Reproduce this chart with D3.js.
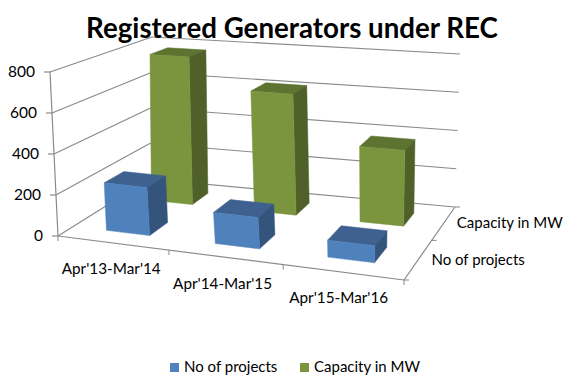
<!DOCTYPE html>
<html>
<head>
<meta charset="utf-8">
<script src="https://d3js.org/d3.v7.min.js"></script>
<style>
  html, body { margin: 0; padding: 0; background: #fff; }
  svg { display: block; }
  text { font-family: Lato, sans-serif; fill: #000; }
</style>
</head>
<body>
<div id="chart"></div>
<script>
const categories = ["Apr'13-Mar'14", "Apr'14-Mar'15", "Apr'15-Mar'16"];
const seriesNames = ["No of projects", "Capacity in MW"];
const noOfProjects = [235, 150, 80];
const capacityInMw = [775, 620, 380];
const yTicks = [0, 200, 400, 600, 800];
const seriesValues = [noOfProjects, capacityInMw];

const colors = [
  { front: "#4f81bd", side: "#35547c", top: "#3e618f" },
  { front: "#7a953d", side: "#4f6128", top: "#5d7330" },
];

const width = 580;
const height = 381;

// corners of the chart box on screen: front-left, front-right, back-right, back-left
const floorQuad = [[58, 236], [404, 280], [455, 207], [149, 179]];
const topQuad = [[50, 72], [412, 106], [460, 54], [152, 37]];

// maps the unit square on to a quad, so depth shrinks like in the excel 3d chart
function homography(q) {
  const [[x0, y0], [x1, y1], [x2, y2], [x3, y3]] = q;
  const dx1 = x1 - x2, dx2 = x3 - x2, sx = x0 - x1 + x2 - x3;
  const dy1 = y1 - y2, dy2 = y3 - y2, sy = y0 - y1 + y2 - y3;
  const den = dx1 * dy2 - dx2 * dy1;
  const g = (sx * dy2 - dx2 * sy) / den;
  const h = (dx1 * sy - sx * dy1) / den;
  const a = x1 - x0 + g * x1, b = x3 - x0 + h * x3;
  const d = y1 - y0 + g * y1, e = y3 - y0 + h * y3;
  return (u, v) => {
    const w = g * u + h * v + 1;
    return [(a * u + b * v + x0) / w, (d * u + e * v + y0) / w];
  };
}

const floorAt = homography(floorQuad);
const topAt = homography(topQuad);

const xScale = d3.scaleBand().domain(categories).range([0.006, 0.995]).paddingInner(0.6).paddingOuter(0.3);
const zScale = d3.scaleBand().domain(seriesNames).range([0, 1]).paddingInner(0.6).paddingOuter(0.3);
const yScale = d3.scaleLinear().domain([0, 800]).range([0, 1]);
// the real chart has less perspective along the front edge than the quad gives
const uWarp = d3.scaleLinear().domain([0, 1 / 3, 2 / 3, 1]).range([0, 0.3595, 0.689, 1]);

function project(u, v, t) {
  const f = floorAt(uWarp(u), v);
  const p = topAt(uWarp(u), v);
  return [f[0] + (p[0] - f[0]) * t, f[1] + (p[1] - f[1]) * t];
}

const svg = d3.select("#chart").append("svg").attr("width", width).attr("height", height);
const line = d3.line();

function segment(g, from, to, stroke, sw) {
  g.append("line")
    .attr("x1", from[0]).attr("y1", from[1])
    .attr("x2", to[0]).attr("y2", to[1])
    .attr("stroke", stroke)
    .attr("stroke-width", sw);
}

// walls and floor edges
const gridGroup = svg.append("g");
const gridColor = "#8a8a8a";
yTicks.forEach((tick) => {
  const t = yScale(tick);
  segment(gridGroup, project(0, 0, t), project(0, 1, t), gridColor, 1.2);
  segment(gridGroup, project(0, 1, t), project(1, 1, t), gridColor, 1.2);
  const p = project(0, 0, t);
  segment(gridGroup, [p[0] - 6, p[1]], p, gridColor, 1.2);
});
segment(gridGroup, project(0, 0, 0), project(0, 0, 1), gridColor, 1.2);
segment(gridGroup, project(0, 0, 0), project(1, 0, 0), gridColor, 1.2);
segment(gridGroup, project(1, 0, 0), project(1, 1, 0), gridColor, 1.2);

d3.range(4).forEach((i) => {
  const p = project(i / 3, 0, 0);
  segment(gridGroup, p, [p[0], p[1] + 5], gridColor, 1);
});
d3.range(3).forEach((i) => {
  const p = project(1, i / 2, 0);
  segment(gridGroup, p, [p[0] + 5, p[1]], gridColor, 1);
});

// bars, back row first so the blue ones sit in front
const barGroup = svg.append("g");
[1, 0].forEach((s) => {
  categories.forEach((cat, i) => {
    const u0 = xScale(cat), u1 = u0 + xScale.bandwidth();
    const v0 = zScale(seriesNames[s]), v1 = v0 + zScale.bandwidth();
    const t = yScale(seriesValues[s][i]);
    const faces = [
      { fill: colors[s].top, pts: [[u0, v0, t], [u1, v0, t], [u1, v1, t], [u0, v1, t]] },
      { fill: colors[s].side, pts: [[u1, v0, 0], [u1, v1, 0], [u1, v1, t], [u1, v0, t]] },
      { fill: colors[s].front, pts: [[u0, v0, 0], [u1, v0, 0], [u1, v0, t], [u0, v0, t]] },
    ];
    faces.forEach((face) => {
      barGroup.append("path")
        .attr("d", line(face.pts.map((p) => project(p[0], p[1], p[2]))) + "Z")
        .attr("fill", face.fill)
        .attr("stroke", face.fill)
        .attr("stroke-width", 0.5);
    });
  });
});

// value axis labels
yTicks.forEach((tick) => {
  const p = project(0, 0, yScale(tick));
  svg.append("text")
    .attr("x", p[0] - 15)
    .attr("y", p[1])
    .attr("dy", "0.35em")
    .attr("text-anchor", "end")
    .style("font-size", "15.5px")
    .text(tick);
});

// category labels under the front edge
categories.forEach((cat) => {
  const p = project(xScale(cat) + xScale.bandwidth() / 2, 0, 0);
  svg.append("text")
    .attr("x", p[0] - 2)
    .attr("y", p[1] + 26)
    .attr("dy", "0.35em")
    .attr("text-anchor", "middle")
    .style("font-size", "15.3px")
    .text(cat);
});

// series labels along the right floor edge
seriesNames.forEach((name) => {
  const p = project(1, zScale(name) + zScale.bandwidth() / 2, 0);
  svg.append("text")
    .attr("x", p[0] + 13)
    .attr("y", p[1])
    .attr("dy", "0.35em")
    .style("font-size", "15px")
    .text(name);
});

svg.append("text")
  .attr("x", 292)
  .attr("y", 38)
  .attr("text-anchor", "middle")
  .style("font-size", "27.7px")
  .style("font-weight", "700")
  .text("Registered Generators under REC");

// legend
const legendX = [170, 300];
seriesNames.forEach((name, i) => {
  svg.append("rect")
    .attr("x", legendX[i])
    .attr("y", 363)
    .attr("width", 9)
    .attr("height", 9)
    .attr("fill", colors[i].front);
  svg.append("text")
    .attr("x", legendX[i] + 14)
    .attr("y", 367)
    .attr("dy", "0.35em")
    .style("font-size", "15px")
    .text(name);
});
</script>
</body>
</html>
